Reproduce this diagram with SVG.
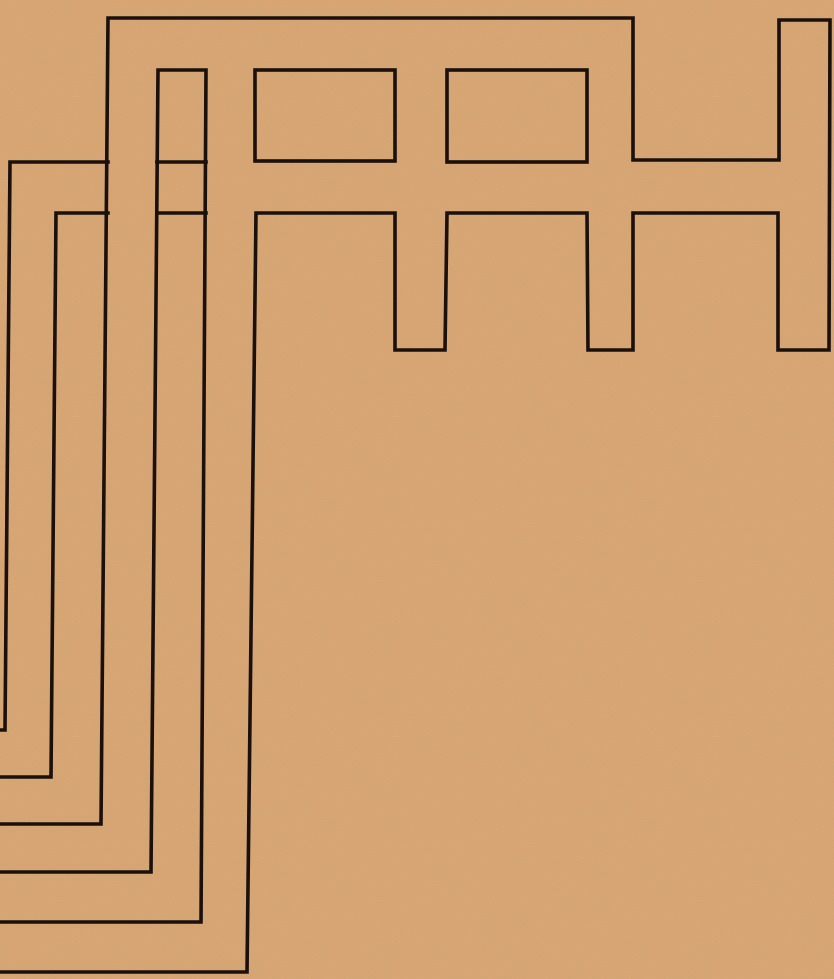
<svg xmlns="http://www.w3.org/2000/svg" width="834" height="979" viewBox="0 0 834 979">
<style>
.ln{fill:none;stroke:#1a100d;stroke-width:3.6;stroke-linejoin:miter;stroke-linecap:square}
</style>
<defs>
<filter id="paper" x="0" y="0" width="100%" height="100%">
<feTurbulence type="fractalNoise" baseFrequency="0.8" numOctaves="2" seed="3" result="n"/>
<feColorMatrix in="n" type="matrix" values="0 0 0 0 0.5  0 0 0 0 0.33  0 0 0 0 0.18  0 0 0 0.35 -0.08"/>
</filter>
</defs>
<rect id="background" x="0" y="0" width="834" height="979" fill="#d9a674"/>
<rect x="0" y="0" width="834" height="979" filter="url(#paper)"/>
<g id="lines">
<path id="outer" class="ln" d="M0,972 L247,972 L256,213 L395,213 L395,350 L445,350 L447,213 L587,213 L588,350 L633,350 L633,213 L778,213 L778,350 L829,350 L830,20 L779,20 L779,160 L633,160 L633,18 L108,18 L101,824 L0,824"/>
<path id="line-a" class="ln" d="M0,730 L5,730 L10,162 L108,162"/>
<path id="line-b" class="ln" d="M0,777 L51,777 L56,213 L108,213"/>
<path id="strip" class="ln" d="M0,872 L151,872 L158,70 L206,70 L201,922 L0,922"/>
<path id="strip-bars" class="ln" d="M157,162 L206,162 M157,213 L206,213"/>
<rect id="box-1" class="ln" x="255" y="70" width="140" height="91"/>
<rect id="box-2" class="ln" x="447" y="70" width="140" height="92"/>
</g>
</svg>
